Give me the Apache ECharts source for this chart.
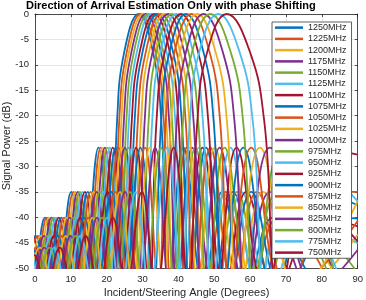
<!DOCTYPE html>
<html>
<head>
<meta charset="utf-8">
<script src="https://cdn.jsdelivr.net/npm/echarts@6.0.0/dist/echarts.min.js"></script>
<style>html,body{margin:0;padding:0;background:#fff}#c{width:366px;height:300px}</style>
</head>
<body>
<div id="c"></div>
<script>
// Legend / series names
const freqs = ['1250MHz','1225MHz','1200MHz','1175MHz','1150MHz','1125MHz','1100MHz','1075MHz','1050MHz','1025MHz','1000MHz','975MHz','950MHz','925MHz','900MHz','875MHz','850MHz','825MHz','800MHz','775MHz','750MHz'];

// Each curve: [angle (deg), signal power (dB)] (lobe peaks / nulls / main-lobe flanks)
const c1250 = [[-4.4,-43.7],[-1.0,-54],[2.8,-40.1],[6.2,-54],[10.1,-35],[13.4,-54],[17.7,-26.3],[21.0,-54],[22.9,-20.9],[24.8,-7.8],[28.9,0],[33.0,-7.8],[35.2,-20.9],[37.4,-54],[41.4,-26.3],[47.1,-54],[52.2,-35],[59.0,-54],[66.4,-40.1],[79.3,-54],[90,-57.6]];
const c1225 = [[-3.9,-43.7],[-0.4,-54],[3.3,-40.1],[6.7,-54],[10.7,-35],[14.0,-54],[18.3,-26.3],[21.6,-54],[23.5,-20.9],[25.5,-7.8],[29.5,0],[33.7,-7.8],[35.9,-20.9],[38.1,-54],[42.2,-26.3],[47.9,-54],[53.1,-35],[60.2,-54],[67.9,-40.1],[83.0,-54],[90,-70]];
const c1200 = [[-3.3,-43.7],[0.2,-54],[3.9,-40.1],[7.3,-54],[11.3,-35],[14.6,-54],[18.9,-26.3],[22.2,-54],[24.1,-20.9],[26.1,-7.8],[30.2,0],[34.4,-7.8],[36.6,-20.9],[38.9,-54],[43.0,-26.3],[48.8,-54],[54.1,-35],[61.4,-54],[69.5,-40.1],[90,-60]];
const c1175 = [[-2.7,-43.7],[0.8,-54],[4.6,-40.1],[8.0,-54],[11.9,-35],[15.3,-54],[19.5,-26.3],[22.9,-54],[24.8,-20.9],[26.8,-7.8],[30.9,0],[35.2,-7.8],[37.4,-20.9],[39.7,-54],[43.8,-26.3],[49.8,-54],[55.2,-35],[62.7,-54],[71.3,-40.1],[90,-61]];
const c1150 = [[-2.0,-43.7],[1.4,-54],[5.2,-40.1],[8.6,-54],[12.5,-35],[15.9,-54],[20.2,-26.3],[23.6,-54],[25.5,-20.9],[27.5,-7.8],[31.6,0],[35.9,-7.8],[38.2,-20.9],[40.5,-54],[44.7,-26.3],[50.8,-54],[56.3,-35],[64.1,-54],[73.4,-40.1],[90,-51]];
const c1125 = [[-1.4,-43.7],[2.1,-54],[5.9,-40.1],[9.3,-54],[13.2,-35],[16.6,-54],[20.9,-26.3],[24.3,-54],[26.2,-20.9],[28.3,-7.8],[32.4,0],[36.8,-7.8],[39.1,-20.9],[41.4,-54],[45.7,-26.3],[51.8,-54],[57.5,-35],[65.7,-54],[76.0,-40.1],[90,-45.2]];
const c1100 = [[-4.4,-54],[-0.7,-43.7],[2.8,-54],[6.6,-40.1],[10.0,-54],[13.9,-35],[17.4,-54],[21.7,-26.3],[25.1,-54],[27.0,-20.9],[29.1,-7.8],[33.3,0],[37.7,-7.8],[40.0,-20.9],[42.3,-54],[46.7,-26.3],[53.0,-54],[58.9,-35],[67.4,-54],[79.3,-40.1],[90,-41.8]];
const c1075 = [[-3.7,-54],[0.1,-43.7],[3.5,-54],[7.3,-40.1],[10.7,-54],[14.7,-35],[18.1,-54],[22.5,-26.3],[25.9,-54],[27.8,-20.9],[29.9,-7.8],[34.1,0],[38.6,-7.8],[40.9,-20.9],[43.3,-54],[47.7,-26.3],[54.2,-54],[60.3,-35],[69.4,-54],[84.4,-40.1],[90,-40.3]];
const c1050 = [[-2.9,-54],[0.8,-43.7],[4.3,-54],[8.1,-40.1],[11.5,-54],[15.5,-35],[18.9,-54],[23.3,-26.3],[26.7,-54],[28.7,-20.9],[30.8,-7.8],[35.1,0],[39.6,-7.8],[42.0,-20.9],[44.4,-54],[48.9,-26.3],[55.5,-54],[61.9,-35],[71.7,-54],[90,-40.7]];
const c1025 = [[-2.1,-54],[1.6,-43.7],[5.1,-54],[8.9,-40.1],[12.3,-54],[16.3,-35],[19.8,-54],[24.2,-26.3],[27.6,-54],[29.6,-20.9],[31.7,-7.8],[36.1,0],[40.6,-7.8],[43.0,-20.9],[45.5,-54],[50.1,-26.3],[57.0,-54],[63.6,-35],[74.5,-54],[90,-43.4]];
const c1000 = [[-4.7,-46],[-1.2,-54],[2.5,-43.7],[5.9,-54],[9.7,-40.1],[13.2,-54],[17.2,-35],[20.7,-54],[25.1,-26.3],[28.6,-54],[30.6,-20.9],[32.7,-7.8],[37.1,0],[41.7,-7.8],[44.2,-20.9],[46.7,-54],[51.5,-26.3],[58.6,-54],[65.6,-35],[78.0,-54],[90,-50.2]];
const c975  = [[-3.8,-46],[-0.4,-54],[3.4,-43.7],[6.8,-54],[10.6,-40.1],[14.1,-54],[18.1,-35],[21.6,-54],[26.1,-26.3],[29.6,-54],[31.7,-20.9],[33.8,-7.8],[38.2,0],[42.9,-7.8],[45.5,-20.9],[48.1,-54],[52.9,-26.3],[60.3,-54],[67.9,-35],[83.6,-54],[90,-70]];
const c950  = [[-2.9,-46],[0.6,-54],[4.3,-43.7],[7.8,-54],[11.6,-40.1],[15.1,-54],[19.1,-35],[22.6,-54],[27.1,-26.3],[30.7,-54],[32.7,-20.9],[34.9,-7.8],[39.4,0],[44.2,-7.8],[46.8,-20.9],[49.5,-54],[54.5,-26.3],[62.2,-54],[70.5,-35],[90,-62]];
const c925  = [[-1.9,-46],[1.6,-54],[5.3,-43.7],[8.7,-54],[12.6,-40.1],[16.1,-54],[20.2,-35],[23.7,-54],[28.2,-26.3],[31.8,-54],[33.9,-20.9],[36.1,-7.8],[40.7,0],[45.6,-7.8],[48.3,-20.9],[51.0,-54],[56.2,-26.3],[64.4,-54],[73.7,-35],[90,-44.8]];
const c900  = [[-4.6,-54],[-0.8,-46],[2.6,-54],[6.3,-43.7],[9.8,-54],[13.7,-40.1],[17.2,-54],[21.3,-35],[24.8,-54],[29.4,-26.3],[33.0,-54],[35.2,-20.9],[37.4,-7.8],[42.1,0],[47.1,-7.8],[49.8,-20.9],[52.7,-54],[58.1,-26.3],[67.0,-54],[77.9,-35],[90,-37.6]];
const c875  = [[-3.5,-54],[0.3,-46],[3.7,-54],[7.4,-43.7],[10.9,-54],[14.8,-40.1],[18.3,-54],[22.5,-35],[26.1,-54],[30.7,-26.3],[34.4,-54],[36.5,-20.9],[38.8,-7.8],[43.6,0],[48.8,-7.8],[51.6,-20.9],[54.5,-54],[60.3,-26.3],[70.0,-54],[85.5,-35],[90,-35]];
const c850  = [[-2.3,-54],[1.4,-46],[4.9,-54],[8.6,-43.7],[12.1,-54],[16.0,-40.1],[19.5,-54],[23.7,-35],[27.4,-54],[32.0,-26.3],[35.8,-54],[38.0,-20.9],[40.3,-7.8],[45.2,0],[50.5,-7.8],[53.5,-20.9],[56.6,-54],[62.7,-26.3],[73.7,-54],[90,-36.8]];
const c825  = [[-4.5,-47.4],[-1.1,-54],[2.6,-46],[6.1,-54],[9.9,-43.7],[13.4,-54],[17.3,-40.1],[20.9,-54],[25.1,-35],[28.8,-54],[33.5,-26.3],[37.3,-54],[39.6,-20.9],[42.0,-7.8],[47.0,0],[52.5,-7.8],[55.6,-20.9],[58.9,-54],[65.5,-26.3],[78.9,-54],[90,-46.4]];
const c800  = [[-3.2,-47.4],[0.2,-54],[4.0,-46],[7.4,-54],[11.2,-43.7],[14.7,-54],[18.7,-40.1],[22.3,-54],[26.5,-35],[30.3,-54],[35.1,-26.3],[39.0,-54],[41.3,-20.9],[43.7,-7.8],[48.9,0],[54.7,-7.8],[58.0,-20.9],[61.5,-54],[68.9,-26.3],[90,-70]];
const c775  = [[-1.8,-47.4],[1.6,-54],[5.4,-46],[8.8,-54],[12.6,-43.7],[16.2,-54],[20.1,-40.1],[23.8,-54],[28.1,-35],[31.9,-54],[36.8,-26.3],[40.8,-54],[43.2,-20.9],[45.7,-7.8],[51.1,0],[57.2,-7.8],[60.7,-20.9],[64.6,-54],[73.2,-26.3],[90,-36.9]];
const c750  = [[-4.1,-54],[-0.3,-47.4],[3.1,-54],[6.9,-46],[10.3,-54],[14.1,-43.7],[17.7,-54],[21.7,-40.1],[25.4,-54],[29.8,-35],[33.7,-54],[38.7,-26.3],[42.8,-54],[45.3,-20.9],[47.9,-7.8],[53.5,0],[60.1,-7.8],[63.9,-20.9],[68.3,-54],[79.5,-26.3],[90,-27.7]];

const curves = [c1250,c1225,c1200,c1175,c1150,c1125,c1100,c1075,c1050,c1025,c1000,c975,c950,c925,c900,c875,c850,c825,c800,c775,c750];
const palette = ['#0072BD','#D95319','#EDB120','#7E2F8E','#77AC30','#4DBEEE','#A2142F'];

const FONT = '"Liberation Sans", Arial, Helvetica, sans-serif';
const AX = '#262626';

const chart = echarts.init(document.getElementById('c'), null, {renderer: 'canvas'});

const series = curves.map((d, i) => {
  const col = palette[i % palette.length];
  return {
    name: freqs[i], type: 'line', data: d, xAxisIndex: 0, yAxisIndex: 0,
    symbol: 'none', showSymbol: false, smooth: 0.45, clip: true,
    lineStyle: {width: 1.8, color: col}, itemStyle: {color: col},
    emphasis: {disabled: true}
  };
});

const axisCommon = {
  axisLine: {show: true, onZero: false, lineStyle: {color: AX, width: 0.8}},
  axisTick: {show: true, inside: true, length: 3, lineStyle: {color: AX, width: 0.8}},
};

chart.setOption({
  animation: false,
  backgroundColor: '#fff',
  grid: {left: 35, right: 8, top: 14, bottom: 32, containLabel: false},
  xAxis: [
    Object.assign({type: 'value', min: 0, max: 90, interval: 10, position: 'bottom',
      axisLabel: {color: AX, fontSize: 9.5, fontFamily: FONT, margin: 6},
      splitLine: {show: true, lineStyle: {color: '#dfdfdf', width: 0.8}}}, axisCommon),
    Object.assign({type: 'value', min: 0, max: 90, interval: 10, position: 'top',
      axisLabel: {show: false}, splitLine: {show: false}}, axisCommon)
  ],
  yAxis: [
    Object.assign({type: 'value', min: -50, max: 0, interval: 5, position: 'left',
      axisLabel: {color: AX, fontSize: 9.5, fontFamily: FONT, margin: 6},
      splitLine: {show: true, lineStyle: {color: '#dfdfdf', width: 0.8}}}, axisCommon),
    Object.assign({type: 'value', min: -50, max: 0, interval: 5, position: 'right',
      axisLabel: {show: false}, splitLine: {show: false}}, axisCommon)
  ],
  legend: {
    orient: 'vertical', left: 272, top: 22,
    data: freqs, icon: 'rect', itemWidth: 28, itemHeight: 2.5, itemGap: 0,
    padding: [0, 5, 0, 3],
    backgroundColor: '#fff', borderColor: '#3a3a3a', borderWidth: 0.8,
    selectedMode: false,
    textStyle: {fontSize: 9, lineHeight: 11.25, color: AX, fontFamily: FONT}
  },
  graphic: [
    {type: 'text', left: 26, top: 0, z: 100,
      style: {text: 'Direction of Arrival Estimation Only with phase Shifting', font: 'bold 11px ' + FONT, fill: '#000'}},
    {type: 'text', x: 186.5, y: 293, z: 100,
      style: {text: 'Incident/Steering Angle (Degrees)', font: '11px ' + FONT, fill: AX, align: 'center', verticalAlign: 'middle', textAlign: 'center', textVerticalAlign: 'middle'}},
    {type: 'text', x: 7, y: 146, rotation: Math.PI / 2, z: 100,
      style: {text: 'Signal Power (dB)', font: '11px ' + FONT, fill: AX, align: 'center', verticalAlign: 'middle', textAlign: 'center', textVerticalAlign: 'middle'}}
  ],
  series: series
});
</script>
</body>
</html>
